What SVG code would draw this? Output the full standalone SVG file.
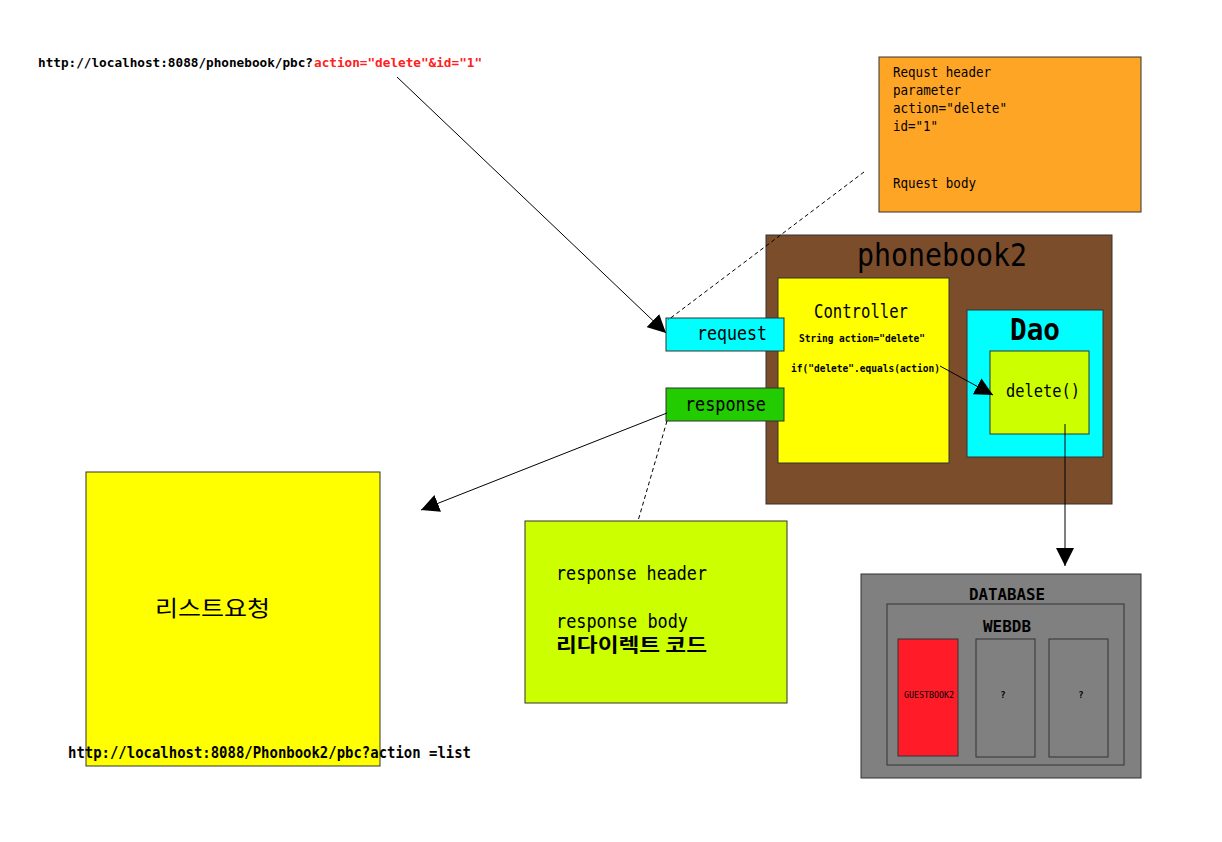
<svg xmlns="http://www.w3.org/2000/svg" width="1222" height="842" viewBox="0 0 1222 842">
<style>
.t{font-family:"DejaVu Sans Mono","Noto Sans CJK KR",monospace;fill:#000}
.b{font-weight:bold}
.k{font-family:"Noto Sans CJK KR",sans-serif;fill:#000}
.red{fill:#ff2020}
.box{stroke:#333;stroke-width:1}
.ln{stroke:#000;stroke-width:1;fill:none}
.dash{stroke:#000;stroke-width:1;fill:none;stroke-dasharray:4,3}
</style>
<defs>
<marker id="ah" viewBox="0 0 10 10" refX="10" refY="5" markerWidth="18" markerHeight="18" markerUnits="userSpaceOnUse" orient="auto">
<path d="M0,0 L10,5 L0,10 Z" fill="#000"/>
</marker>
</defs>
<rect width="1222" height="842" fill="#fff"/>

<g id="url-top">
<text class="t b" x="38" y="67" font-size="12.7">http://localhost:8088/phonebook/pbc?</text>
<text class="t b red" x="314" y="67" font-size="12.7">action="delete"&amp;id="1"</text>
</g>

<g id="request-info">
<rect class="box" x="879" y="57" width="262" height="155" fill="#FFA526"/>
<text class="t" x="893" y="77" font-size="14" textLength="98" lengthAdjust="spacingAndGlyphs">Requst header</text>
<text class="t" x="893" y="95" font-size="14" textLength="68" lengthAdjust="spacingAndGlyphs">parameter</text>
<text class="t" x="893" y="113" font-size="14" textLength="114" lengthAdjust="spacingAndGlyphs">action="delete"</text>
<text class="t" x="893" y="131" font-size="14" textLength="45" lengthAdjust="spacingAndGlyphs">id="1"</text>
<text class="t" x="893" y="188" font-size="14" textLength="83" lengthAdjust="spacingAndGlyphs">Rquest body</text>
</g>

<g id="phonebook2">
<rect class="box" x="766" y="235" width="346" height="269" fill="#7B4D2A"/>
<text class="t" x="857" y="266" font-size="32" textLength="170" lengthAdjust="spacingAndGlyphs">phonebook2</text>
</g>

<g id="controller">
<rect class="box" x="778" y="278" width="171" height="185" fill="#FFFF00"/>
<text class="t" x="814" y="318" font-size="19" textLength="94" lengthAdjust="spacingAndGlyphs">Controller</text>
<text class="t b" x="799" y="342" font-size="11" textLength="126" lengthAdjust="spacingAndGlyphs">String action="delete"</text>
<text class="t b" x="791" y="372" font-size="11" textLength="149" lengthAdjust="spacingAndGlyphs">if("delete".equals(action)</text>
</g>

<g id="dao">
<rect class="box" x="967" y="310" width="136" height="147" fill="#00FFFF"/>
<text class="t b" x="1010" y="340" font-size="31" textLength="50" lengthAdjust="spacingAndGlyphs">Dao</text>
</g>

<g id="delete">
<rect class="box" x="990" y="351" width="99" height="83" fill="#CCFF00"/>
<text class="t" x="1006" y="397" font-size="17" textLength="74" lengthAdjust="spacingAndGlyphs">delete()</text>
</g>

<g id="request">
<rect class="box" x="666" y="318" width="118" height="33" fill="#00FFFF"/>
<text class="t" x="697" y="340" font-size="19" textLength="70" lengthAdjust="spacingAndGlyphs">request</text>
</g>

<g id="response">
<rect class="box" x="666" y="388" width="118" height="33" fill="#22CC00"/>
<text class="t" x="685" y="411" font-size="19" textLength="81" lengthAdjust="spacingAndGlyphs">response</text>
</g>

<g id="response-info">
<rect class="box" x="525" y="521" width="262" height="182" fill="#CCFF00"/>
<text class="t" x="556" y="580" font-size="19" textLength="151" lengthAdjust="spacingAndGlyphs">response header</text>
<text class="t" x="556" y="628" font-size="19" textLength="132" lengthAdjust="spacingAndGlyphs">response body</text>
<text class="k" x="556" y="652" font-size="19" font-weight="bold" textLength="151" lengthAdjust="spacingAndGlyphs">리다이렉트 코드</text>
</g>

<g id="list">
<rect class="box" x="86" y="472" width="294" height="294" fill="#FFFF00"/>
<text class="k" x="155" y="616" font-size="22" textLength="115" lengthAdjust="spacingAndGlyphs">리스트요청</text>
</g>

<g id="url-bottom">
<text class="t b" x="68" y="758" font-size="15" textLength="403" lengthAdjust="spacingAndGlyphs">http://localhost:8088/Phonbook2/pbc?action =list</text>
</g>

<g id="database">
<rect class="box" x="861" y="574" width="280" height="204" fill="#808080"/>
<text class="t b" x="969" y="600" font-size="16" textLength="76" lengthAdjust="spacingAndGlyphs">DATABASE</text>
<rect class="box" x="887" y="604" width="237" height="161" fill="#808080"/>
<text class="t b" x="983" y="632" font-size="16" textLength="48" lengthAdjust="spacingAndGlyphs">WEBDB</text>
</g>

<g id="guestbook2">
<rect class="box" x="898" y="639" width="60" height="117" fill="#FF1C28"/>
<text class="t" x="904" y="698" font-size="9" textLength="50" lengthAdjust="spacingAndGlyphs">GUESTBOOK2</text>
</g>
<g id="table2">
<rect class="box" x="976" y="639" width="59" height="118" fill="#808080"/>
<text class="t b" x="1003" y="698" font-size="9" text-anchor="middle">?</text>
</g>
<g id="table3">
<rect class="box" x="1049" y="639" width="59" height="118" fill="#808080"/>
<text class="t b" x="1081" y="698" font-size="9" text-anchor="middle">?</text>
</g>

<g id="connectors">
<line class="ln" x1="397" y1="77" x2="666" y2="333" marker-end="url(#ah)"/>
<line class="dash" x1="864" y1="172" x2="668" y2="320"/>
<line class="ln" x1="940" y1="366" x2="993" y2="395" marker-end="url(#ah)"/>
<line class="ln" x1="667" y1="413" x2="421" y2="510" marker-end="url(#ah)"/>
<line class="dash" x1="667" y1="421" x2="638" y2="521"/>
<line class="ln" x1="1065" y1="424" x2="1065" y2="566" marker-end="url(#ah)"/>
</g>
</svg>
